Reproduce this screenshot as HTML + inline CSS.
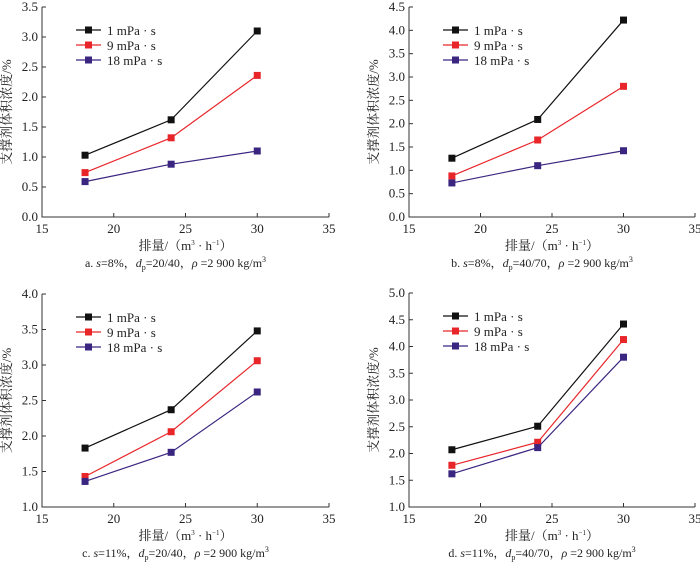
<!DOCTYPE html>
<html><head><meta charset="utf-8"><style>
body{margin:0;background:#fff}
svg text{font-family:"Liberation Serif","Noto Serif CJK SC",serif;fill:#222}
</style></head><body>
<svg id="c" width="700" height="562" viewBox="0 0 700 562" xmlns="http://www.w3.org/2000/svg"></svg>
<script>
const xCats=[18,24,30];
const seriesNames=["1 mPa · s","9 mPa · s","18 mPa · s"];
const colors=["#111111","#e8262a","#3a2580"];
const aVals=[[1.03,1.62,3.10],[0.74,1.32,2.36],[0.59,0.88,1.10]];
const bVals=[[1.26,2.09,4.22],[0.88,1.65,2.80],[0.73,1.10,1.42]];
const cVals=[[1.83,2.37,3.48],[1.43,2.06,3.06],[1.36,1.77,2.62]];
const dVals=[[2.07,2.51,4.42],[1.78,2.21,4.13],[1.62,2.11,3.80]];
const xTicks=[15,20,25,30,35];
const aTicks=[0,0.5,1,1.5,2,2.5,3,3.5];
const bTicks=[0,0.5,1,1.5,2,2.5,3,3.5,4,4.5];
const cTicks=[1,1.5,2,2.5,3,3.5,4];
const dTicks=[1,1.5,2,2.5,3,3.5,4,4.5,5];
const captions=["a. <tspan font-style='italic'>s</tspan>=8%，<tspan font-style='italic'>d</tspan><tspan font-size='8' dy='3'>p</tspan><tspan dy='-3'>=20/40，</tspan><tspan font-style='italic'>ρ</tspan> =2 900 kg/m<tspan font-size='8' dy='-5'>3</tspan>",
"b. <tspan font-style='italic'>s</tspan>=8%，<tspan font-style='italic'>d</tspan><tspan font-size='8' dy='3'>p</tspan><tspan dy='-3'>=40/70，</tspan><tspan font-style='italic'>ρ</tspan> =2 900 kg/m<tspan font-size='8' dy='-5'>3</tspan>",
"c. <tspan font-style='italic'>s</tspan>=11%，<tspan font-style='italic'>d</tspan><tspan font-size='8' dy='3'>p</tspan><tspan dy='-3'>=20/40，</tspan><tspan font-style='italic'>ρ</tspan> =2 900 kg/m<tspan font-size='8' dy='-5'>3</tspan>",
"d. <tspan font-style='italic'>s</tspan>=11%，<tspan font-style='italic'>d</tspan><tspan font-size='8' dy='3'>p</tspan><tspan dy='-3'>=40/70，</tspan><tspan font-style='italic'>ρ</tspan> =2 900 kg/m<tspan font-size='8' dy='-5'>3</tspan>"];
const panels=[
 {id:"a",x0:42,x1:329,yt:7,yb:217,vals:aVals,ticks:aTicks},
 {id:"b",x0:409,x1:695,yt:7,yb:217,vals:bVals,ticks:bTicks},
 {id:"c",x0:42,x1:329,yt:294,yb:507,vals:cVals,ticks:cTicks},
 {id:"d",x0:409,x1:695,yt:293,yb:507,vals:dVals,ticks:dTicks}];
const svg=document.getElementById('c');
const NS="http://www.w3.org/2000/svg";
function mk(t,a,p){const e=document.createElementNS(NS,t);for(const k in a)e.setAttribute(k,a[k]);(p||svg).appendChild(e);return e;}
panels.forEach((P,pi)=>{
 const g=mk('g',{});
 
 
 const ymin=P.ticks[0],ymax=P.ticks[P.ticks.length-1];
 const sx=v=>P.x0+(v-15)/20*(P.x1-P.x0);
 const sy=v=>P.yb-(v-ymin)/(ymax-ymin)*(P.yb-P.yt);
 const ax=mk('path',{d:`M${P.x0},${P.yt}V${P.yb}H${P.x1}`,stroke:'#333',fill:'none','stroke-width':1},g);
 
 
 P.ticks.forEach(t=>{
  mk('line',{x1:P.x0,x2:P.x0+4,y1:sy(t),y2:sy(t),stroke:'#333'},g);
  const tx=mk('text',{x:P.x0-4,y:sy(t)+4,'text-anchor':'end','font-size':13},g);
  tx.textContent=t.toFixed(1);
  
  
 });
 xTicks.forEach(t=>{
  mk('line',{x1:sx(t),x2:sx(t),y1:P.yb,y2:P.yb-4,stroke:'#333'},g);
  const tx=mk('text',{x:sx(t),y:P.yb+16,'text-anchor':'middle','font-size':13},g);
  tx.textContent=t;
  
  
 });
 const yl=mk('text',{transform:`translate(${P.x0-31},${(P.yt+P.yb)/2}) rotate(-90)`,'text-anchor':'middle','font-size':13},g);
 yl.textContent='支撑剂体积浓度/%';
 
 
 const xl=mk('text',{x:(P.x0+P.x1)/2,y:P.yb+33,'text-anchor':'middle','font-size':13},g);
 xl.innerHTML="排量/（m<tspan font-size='7' dy='-5'>3</tspan><tspan dy='5'> · h</tspan><tspan font-size='7' dy='-5'>−1</tspan><tspan dy='5'>）</tspan>";
 
 
 const cp=mk('text',{x:(P.x0+P.x1)/2-10,y:P.yb+50,'text-anchor':'middle','font-size':12},g);
 cp.innerHTML=captions[pi];
 
 
 P.vals.forEach((s,si)=>{
  const line=mk('polyline',{points:s.map((v,i)=>sx(xCats[i])+','+sy(v)).join(' '),fill:'none',stroke:colors[si],'stroke-width':1.2},g);
  
  
  s.forEach((v,i)=>{
   const r=mk('rect',{x:sx(xCats[i])-3.5,y:sy(v)-3.5,width:7,height:7,fill:colors[si]},g);
   
   
  });
  const ly=P.yt+23+si*15, lx=P.x0+34;
  const le=mk('g',{},g);
  
  
  mk('line',{x1:lx,x2:lx+25,y1:ly,y2:ly,stroke:colors[si],'stroke-width':1.2},le);
  mk('rect',{x:lx+9,y:ly-3.5,width:7,height:7,fill:colors[si]},le);
  const lt=mk('text',{x:lx+31,y:ly+5,'font-size':13},le);
  lt.textContent=seriesNames[si];
 });
});
</script>
</body></html>
